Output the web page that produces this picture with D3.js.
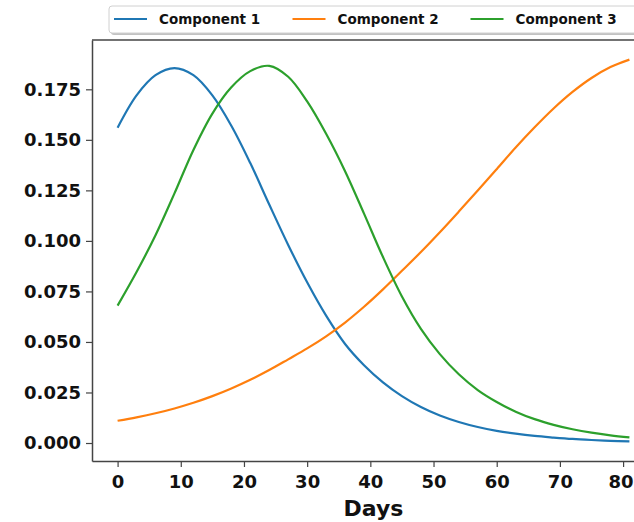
<!DOCTYPE html>
<html>
<head>
<meta charset="utf-8">
<script src="https://cdn.jsdelivr.net/npm/d3@7"></script>
<style>
  body { margin: 0; background: #fff; }
  svg { display: block; }
</style>
</head>
<body>
<div id="container"></div>
<script>
  // data
  const days = [0, 3, 6, 9, 12, 15, 18, 21, 24, 27, 30, 33, 36, 39, 42, 45, 48, 51, 54, 57, 60, 63, 66, 69, 72, 75, 78, 81];
  const component1 = [0.156, 0.172, 0.182, 0.1855, 0.182, 0.172, 0.157, 0.1385, 0.118, 0.098, 0.0795, 0.063, 0.049, 0.0385,
                      0.030, 0.0232, 0.0178, 0.0136, 0.0104, 0.0079, 0.0060, 0.0046, 0.0035, 0.0027, 0.0020, 0.0015, 0.0011, 0.0008];
  const component2 = [0.0110, 0.0127, 0.0147, 0.0171, 0.0199, 0.0232, 0.0270, 0.0313, 0.0361, 0.0414, 0.0468, 0.0528, 0.0596, 0.0674,
                      0.0760, 0.0852, 0.0945, 0.1043, 0.1145, 0.1249, 0.1355, 0.1462, 0.1562, 0.1655, 0.1737, 0.1806, 0.1860, 0.1897];
  const component3 = [0.068, 0.0846, 0.1028, 0.1235, 0.1450, 0.1630, 0.1760, 0.1840, 0.1866, 0.1812, 0.1690, 0.1530, 0.1345, 0.1135,
                      0.0920, 0.0725, 0.0565, 0.0440, 0.0340, 0.0262, 0.0203, 0.0155, 0.0118, 0.0090, 0.0068, 0.0051, 0.0038, 0.0028];
  const seriesNames = ["Component 1", "Component 2", "Component 3"];
  const xTicks = [0, 10, 20, 30, 40, 50, 60, 70, 80];
  const yTicks = [0, 0.025, 0.05, 0.075, 0.1, 0.125, 0.15, 0.175];

  const colors = ["#1f77b4", "#ff7f0e", "#2ca02c"];
  const font = "DejaVu Sans, sans-serif";

  const width = 634, height = 522;
  const plotLeft = 92, plotRight = 655, plotTop = 40, plotBottom = 461;

  const svg = d3.create("svg")
      .attr("width", width)
      .attr("height", height);

  const x = d3.scaleLinear().domain([-4.05, 85.05]).range([plotLeft, plotRight]);
  const y = d3.scaleLinear().domain([-0.0089, 0.1994]).range([plotBottom, plotTop]);

  // lines
  const line = d3.line()
      .x(d => x(d[0]))
      .y(d => y(d[1]))
      .curve(d3.curveCatmullRom.alpha(0.5));

  [component1, component2, component3].forEach((vals, i) => {
    svg.append("path")
        .datum(days.map((d, j) => [d, vals[j]]))
        .attr("d", line)
        .attr("fill", "none")
        .attr("stroke", colors[i])
        .attr("stroke-width", 2.2);
  });

  // axes
  const xAxis = svg.append("g")
      .attr("transform", `translate(0,${plotBottom})`)
      .call(d3.axisBottom(x).tickValues(xTicks).tickSize(6).tickSizeOuter(0).tickPadding(8));

  const yAxis = svg.append("g")
      .attr("transform", `translate(${plotLeft},0)`)
      .call(d3.axisLeft(y).tickValues(yTicks).tickFormat(d3.format(".3f")).tickSize(6).tickSizeOuter(0).tickPadding(5));

  [xAxis, yAxis].forEach(g => {
    g.select(".domain").attr("stroke", "#444").attr("stroke-width", 1.5);
    g.selectAll(".tick line").attr("stroke", "#444").attr("stroke-width", 1.2);
    g.selectAll(".tick text")
        .attr("font-family", font)
        .attr("font-weight", "bold")
        .attr("font-size", 18)
        .attr("fill", "#111");
  });
  // last label sits at the window edge, nudge it in a bit
  xAxis.selectAll(".tick text").filter(d => d === 80).attr("dx", -2.5);

  // top spine
  svg.append("line")
      .attr("x1", plotLeft).attr("x2", plotRight)
      .attr("y1", plotTop).attr("y2", plotTop)
      .attr("stroke", "#444")
      .attr("stroke-width", 1.5);

  svg.append("text")
      .attr("x", (plotLeft + plotRight) / 2)
      .attr("y", 516)
      .attr("text-anchor", "middle")
      .attr("font-family", font)
      .attr("font-weight", "bold")
      .attr("font-size", 22)
      .attr("fill", "#111")
      .text("Days");

  // legend
  const legend = svg.append("g");
  legend.append("rect")
      .attr("x", 111).attr("y", 8)
      .attr("width", 600).attr("height", 27)
      .attr("rx", 3)
      .attr("fill", "#999")
      .attr("opacity", 0.6);
  legend.append("rect")
      .attr("x", 109).attr("y", 6)
      .attr("width", 600).attr("height", 27)
      .attr("rx", 3)
      .attr("fill", "#fff")
      .attr("stroke", "#d0d0d0");

  const itemX = [114, 292.5, 470.5];
  seriesNames.forEach((name, i) => {
    legend.append("line")
        .attr("x1", itemX[i]).attr("x2", itemX[i] + 33)
        .attr("y1", 19).attr("y2", 19)
        .attr("stroke", colors[i])
        .attr("stroke-width", 2.2);
    legend.append("text")
        .attr("x", itemX[i] + 45)
        .attr("y", 24)
        .attr("font-family", font)
        .attr("font-weight", "bold")
        .attr("font-size", 13.5)
        .attr("fill", "#111")
        .text(name);
  });

  container.append(svg.node());
</script>
</body>
</html>
